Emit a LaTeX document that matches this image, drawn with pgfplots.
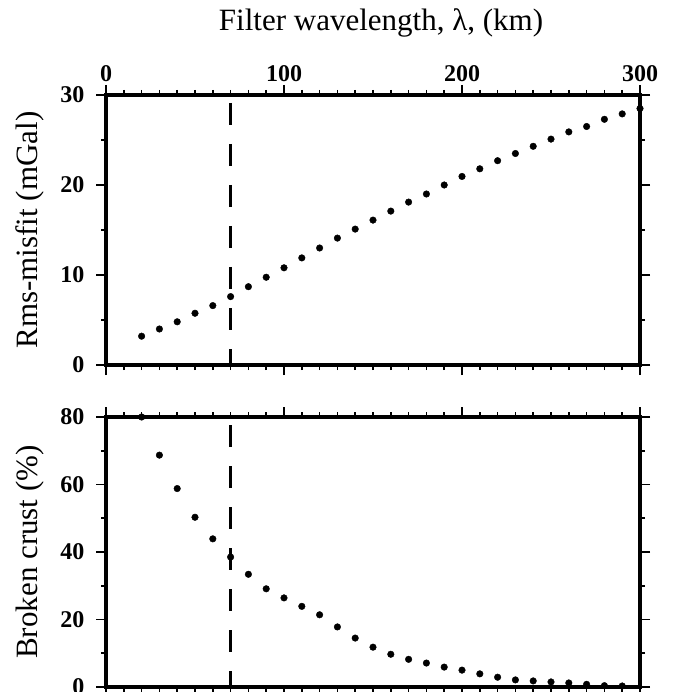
\documentclass[border=0pt]{standalone}
\usepackage{fontspec}
\setmainfont{Liberation Serif}
\usepackage{pgfplots}
\pgfplotsset{compat=1.18}
\pgfplotstableread{
x y
20 3.2
30 4.0
40 4.8
50 5.75
60 6.6
70 7.6
80 8.7
90 9.75
100 10.8
110 11.9
120 13.0
130 14.1
140 15.1
150 16.1
160 17.1
170 18.1
180 19.0
190 20.0
200 20.95
210 21.8
220 22.7
230 23.5
240 24.3
250 25.1
260 25.9
270 26.5
280 27.3
290 27.9
300 28.5
}\misfit
\pgfplotstableread{
x y
20 80.0
30 68.7
40 58.8
50 50.3
60 43.9
70 38.5
80 33.4
90 29.1
100 26.4
110 23.9
120 21.4
130 17.8
140 14.5
150 11.8
160 9.7
170 8.2
180 7.1
190 5.9
200 5.0
210 3.9
220 2.9
230 2.1
240 1.8
250 1.5
260 1.2
270 0.8
280 0.4
290 0.3
}\broken
\begin{document}
\begin{tikzpicture}
\path[use as bounding box] (0pt,0pt) rectangle (675pt,-692pt);
\pgfplotsset{
  panel/.style={
    width=534pt, height=270pt, scale only axis,
    xmin=0, xmax=300, xtick={0,100,200,300}, minor x tick num=9,
    tick align=outside, major tick length=10pt, minor tick length=5pt,
    axis line style={line width=3.2pt},
    every tick/.append style={black, line width=1.6pt},
    tick label style={font=\fontsize{24}{24}\selectfont\bfseries},
    yticklabel style={xshift=-8pt},
    label style={font=\fontsize{31}{31}\selectfont},
    /pgf/number format/assume math mode=true,
    axis on top,
    ylabel style={at={(axis description cs:-0.1292,0.5)}, anchor=base},
  }
}
\begin{axis}[panel, name=top, at={(106pt,-95pt)}, anchor=north west,
  ymin=0, ymax=30, ytick={0,10,20,30}, minor y tick num=1,
  xticklabel pos=upper,
  ylabel={Rms-misfit (mGal)},
  title={Filter wavelength, λ, (km)},
  title style={font=\fontsize{31}{31}\selectfont, at={(axis description cs:0.515,1)}, anchor=base, yshift=58pt},
]
\addplot[black, line width=3pt, dash pattern=on 21.7pt off 19.3pt, dash phase=33pt] coordinates {(70,30) (70,0)};
\addplot[only marks, mark=*, mark size=3.3pt, black] table[x=x,y=y] {\misfit};
\end{axis}
\begin{axis}[panel, name=bot, at={(106pt,-417pt)}, anchor=north west,
  ymin=0, ymax=80, ytick={0,20,40,60,80}, minor y tick num=1,
  xticklabels={},
  ylabel={Broken crust (\%)},
]
\addplot[black, line width=3pt, dash pattern=on 21.7pt off 19.3pt, dash phase=33pt] coordinates {(70,80) (70,0)};
\addplot[only marks, mark=*, mark size=3.3pt, black] table[x=x,y=y] {\broken};
\end{axis}
\end{tikzpicture}
\end{document}
